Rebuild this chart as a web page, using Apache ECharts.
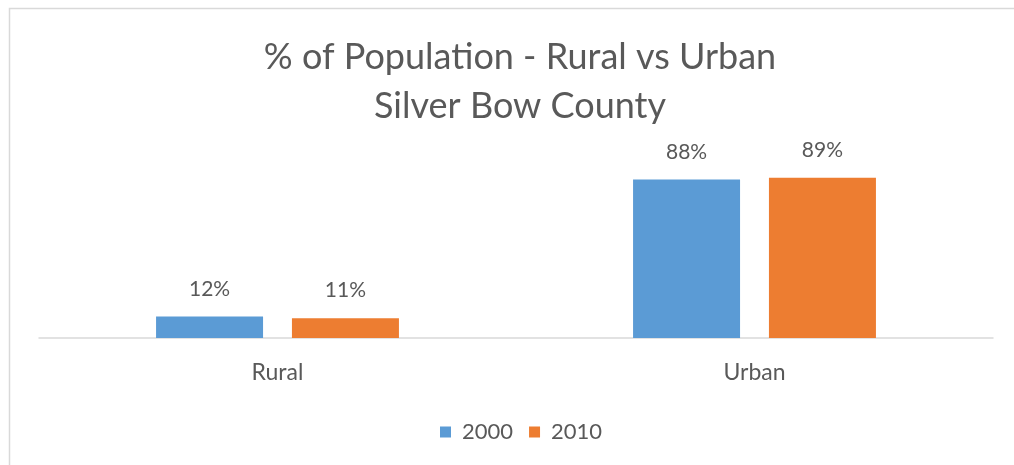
<!DOCTYPE html>
<html>
<head>
<meta charset="utf-8">
<script src="https://cdn.jsdelivr.net/npm/echarts@6/dist/echarts.min.js"></script>
<style>html,body{margin:0;padding:0;background:#fff}#c{width:1014px;height:465px}</style>
</head>
<body>
<div id="c"></div>
<script>
var titleLines = ['% of Population - Rural vs Urban', 'Silver Bow County'];
var categories = ['Rural', 'Urban'];
var seriesNames = ['2000', '2010'];
var values2000 = [12, 88];
var values2010 = [11, 89];

var chart = echarts.init(document.getElementById('c'), null, {renderer: 'canvas'});
var font = 'Lato, "Open Sans", sans-serif';
var textColor = '#595959';
chart.setOption({
  animation: false,
  backgroundColor: '#fff',
  color: ['#5B9BD5', '#ED7D31'],
  graphic: [{
    type: 'rect', left: 7, top: 6, shape: {width: 1020, height: 470},
    style: {fill: 'none', stroke: '#D9D9D9', lineWidth: 1.5}, silent: true, z: -1
  }],
  title: {
    text: titleLines.join('\n'),
    left: 515,
    textAlign: 'center',
    top: 28,
    textStyle: {fontFamily: font, fontSize: 36, fontWeight: 'normal', color: textColor, lineHeight: 49}
  },
  legend: {
    data: seriesNames,
    left: 435,
    top: 416,
    itemWidth: 11,
    itemHeight: 11,
    itemGap: 16,
    icon: 'rect',
    textStyle: {fontFamily: font, fontSize: 22, color: textColor, padding: [0, 0, 0, 6]}
  },
  grid: {left: 39, right: 21, top: 158, bottom: 127, containLabel: false},
  xAxis: {
    type: 'category',
    data: categories,
    axisLine: {lineStyle: {color: '#D9D9D9', width: 1.5}},
    axisTick: {show: false},
    axisLabel: {fontFamily: font, fontSize: 23, color: textColor, margin: 23}
  },
  yAxis: {
    type: 'value', min: 0, max: 100, show: false,
    splitLine: {show: false}
  },
  series: [
    {name: seriesNames[0], type: 'bar', data: values2000, barWidth: 107, barGap: '27%',
     label: {show: true, position: 'top', distance: 17, formatter: '{c}%', fontFamily: font, fontSize: 21, color: textColor}},
    {name: seriesNames[1], type: 'bar', data: values2010, barWidth: 107, barGap: '27%',
     label: {show: true, position: 'top', distance: 17, formatter: '{c}%', fontFamily: font, fontSize: 21, color: textColor}}
  ]
});
</script>
</body>
</html>
